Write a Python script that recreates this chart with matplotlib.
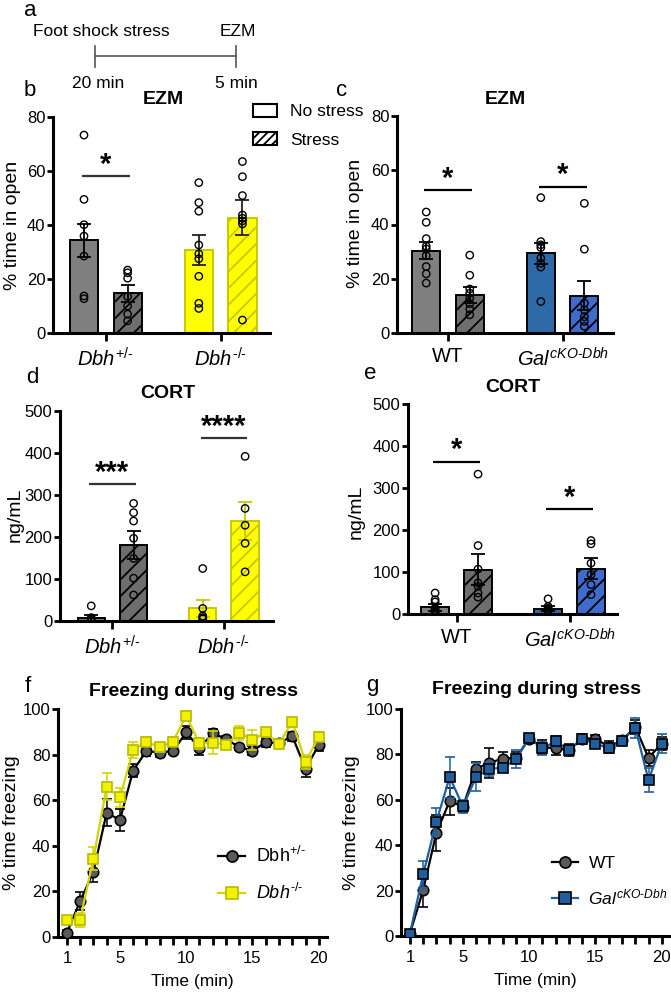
import numpy as np
import matplotlib
matplotlib.use('Agg')
import matplotlib.pyplot as plt
from matplotlib.patches import Patch
from matplotlib.lines import Line2D

W, H = 671, 994
plt.rcParams['font.family'] = ['Liberation Sans', 'DejaVu Sans']
plt.rcParams['mathtext.fontset'] = 'custom'
plt.rcParams['mathtext.rm'] = 'Liberation Sans'
plt.rcParams['mathtext.it'] = 'Liberation Sans:italic'
plt.rcParams['mathtext.bf'] = 'Liberation Sans:bold'
plt.rcParams['hatch.linewidth'] = 1.3

HY = '\u2010'  # typographic hyphen (avoids math minus)

# ---------------- data ----------------
conditions = ['No stress', 'Stress']

# panel b: EZM, Dbh mice
b_groups = [r'$\mathit{Dbh}^{+/' + HY + '}$', r'$\mathit{Dbh}^{' + HY + '/' + HY + '}$']
b_mean = [[34.3, 14.7], [30.7, 42.7]]
b_sem = [[6.2, 3.1], [5.6, 6.4]]
b_points = [[[73.3, 49.5, 40.1, 35.9, 28.5, 13.7, 12.7],
             [23.3, 22.3, 20.3, 13.5, 10.0, 7.0, 4.5]],
            [[55.7, 48.3, 45.1, 32.6, 29.3, 27.5, 21.0, 11.0, 9.1],
             [63.5, 57.9, 50.9, 43.7, 42.5, 41.5, 40.4, 4.8]]]
b_sig = [(0, 58.1, '*')]

# panel c: EZM, Gal cKO
c_groups = ['WT', r'$\mathit{Gal}^{\mathit{cKO' + HY + 'Dbh}}$']
c_mean = [[30.4, 14.1], [29.4, 13.7]]
c_sem = [[3.0, 3.0], [3.9, 5.3]]
c_points = [[[44.6, 40.8, 34.8, 32.0, 31.0, 28.5, 24.5, 21.8, 18.4],
             [28.7, 21.3, 16.2, 14.7, 12.9, 10.8, 8.8, 6.7]],
            [[49.9, 33.7, 32.5, 31.5, 27.6, 25.7, 24.3, 11.6],
             [47.8, 30.9, 11.0, 8.5, 6.0, 4.3, 2.5]]]
c_sig = [(0, 52.7, '*'), (1, 53.9, '*')]

# panel d: CORT, Dbh mice
d_mean = [[8.0, 181.0], [30.0, 238.0]]
d_sem = [[7.0, 34.0], [20.0, 46.0]]
d_points = [[[36.0, 8.0, 5.0, 3.0, 2.0, 1.0],
             [280.0, 258.0, 238.0, 197.0, 149.0, 102.0, 62.0]],
            [[125.0, 30.0, 12.0, 8.0, 5.0],
             [392.0, 268.0, 228.0, 185.0, 117.0]]]
d_sig = [(0, 326.0, '***'), (1, 435.0, '****')]

# panel e: CORT, Gal cKO
e_mean = [[16.0, 105.5], [12.0, 108.0]]
e_sem = [[8.0, 37.0], [6.0, 25.0]]
e_points = [[[50.0, 34.0, 28.6, 14.0, 10.0, 5.0, 2.0],
             [333.0, 163.0, 107.0, 74.0, 66.0, 50.0, 40.0]],
            [[36.0, 18.0, 14.0, 10.0, 8.0],
             [175.0, 167.0, 121.0, 94.0, 70.0, 46.0]]]
e_sig = [(0, 363.0, '*'), (1, 250.0, '*')]

# panels f, g: freezing during stress
minutes = list(range(1, 21))
f_het = [1.9, 15.7, 28.6, 54.5, 51.3, 73.0, 81.6, 80.9, 81.6, 89.7,
         82.8, 89.4, 86.8, 83.3, 81.7, 85.4, 85.0, 88.1, 73.8, 84.2]
f_het_sem = [1.0, 4.0, 4.6, 6.0, 5.0, 3.0, 2.0, 2.0, 1.5, 3.0,
             3.0, 2.0, 1.5, 1.5, 2.0, 2.0, 1.5, 2.0, 3.5, 2.5]
f_ko = [7.3, 7.6, 34.4, 65.9, 61.2, 82.0, 85.7, 83.2, 85.7, 97.0,
        85.0, 85.3, 84.4, 89.4, 86.5, 89.7, 84.6, 94.5, 76.8, 87.8]
f_ko_sem = [1.0, 3.0, 5.0, 6.0, 4.0, 3.5, 2.0, 2.0, 2.0, 2.0,
            2.5, 5.0, 1.5, 3.0, 4.5, 2.0, 1.5, 1.5, 3.0, 2.0]
g_wt = [1.0, 20.2, 45.5, 59.4, 57.0, 73.7, 76.3, 78.1, 78.5, 87.0,
        83.3, 82.6, 81.9, 87.0, 87.0, 83.3, 86.2, 92.1, 78.5, 84.8]
g_wt_sem = [0.5, 7.5, 8.0, 6.0, 2.5, 3.0, 6.7, 3.0, 2.5, 1.5,
            3.0, 3.0, 2.5, 2.0, 1.5, 2.5, 2.0, 3.0, 3.4, 3.0]
g_cko = [1.0, 27.1, 50.4, 70.0, 57.1, 70.0, 73.7, 74.1, 77.8, 87.2,
         82.6, 85.8, 81.9, 86.6, 84.8, 82.6, 86.0, 91.8, 68.7, 84.8]
g_cko_sem = [0.5, 6.0, 6.0, 9.0, 3.0, 6.0, 3.0, 2.0, 4.0, 1.5,
             3.0, 2.5, 2.0, 2.0, 2.0, 2.0, 2.0, 4.4, 5.4, 4.4]

# ---------------- figure ----------------
fig = plt.figure(figsize=(W / 100, H / 100), dpi=100)


def T(x, y, s, **kw):
    kw.setdefault('ha', 'center')
    kw.setdefault('va', 'center')
    return fig.text(x / W, 1 - y / H, s, **kw)


def add_ax(x0, ytop, x1, ybot):
    ax = fig.add_axes([x0 / W, 1 - ybot / H, (x1 - x0) / W, (ybot - ytop) / H])
    for s in ['top', 'right']:
        ax.spines[s].set_visible(False)
    for s in ['left', 'bottom']:
        ax.spines[s].set_linewidth(2.2)
    ax.tick_params(width=2.0, length=4, labelsize=12, pad=1.5)
    return ax


OFF = 0.19
BW = 0.245


def bar_panel(rect, groups, means, sems, points, faces, edges, errc, ylim, yticks,
              sigs, xlim, sigc='#333333'):
    ax = add_ax(*rect)
    for g in range(2):
        for c in range(2):
            x = g + (2 * c - 1) * OFF
            ax.bar(x, means[g][c], width=BW, color=faces[g][c], edgecolor=edges[g][c],
                   linewidth=1.4, hatch='//' if c == 1 else None, zorder=2)
            ax.errorbar(x, means[g][c], yerr=sems[g][c], color=errc[g][c], capsize=5,
                        elinewidth=1.3, capthick=1.3, zorder=3)
            pts = points[g][c]
            ax.scatter([x] * len(pts), pts, s=28, facecolors='none',
                       edgecolors='black', linewidths=1.0, zorder=4)
    for g, y, s in sigs:
        ax.plot([g - OFF - 0.02, g + OFF + 0.02], [y, y], color=sigc, lw=1.6,
                solid_capstyle='butt', zorder=3)
        ax.text(g, y - (ylim[1] - ylim[0]) * 0.012, s, ha='center', va='bottom',
                fontsize=21, fontweight='bold')
    ax.set_xlim(*xlim)
    ax.set_ylim(*ylim)
    ax.set_yticks(yticks)
    ax.set_xticks([0, 1])
    ax.set_xticklabels(groups, fontsize=14.5)
    ax.tick_params(axis='x', length=6, pad=4)
    return ax


gray_f = '#7f7f7f'
gray_s = '#6e6e6e'
yel = '#ffff00'
yel_e = '#c8c800'
blue_f = '#2f6aa8'
blue_s = '#3f6ccc'

# panel b
axb = bar_panel((53, 117, 270, 333), b_groups, b_mean, b_sem, b_points,
                [[gray_f, gray_s], [yel, yel]],
                [['black', 'black'], [yel_e, yel_e]],
                [['black', 'black'], ['#222222', '#222222']],
                (0, 80), [0, 20, 40, 60, 80], b_sig, (-0.46, 1.43))
leg = axb.legend(handles=[Patch(facecolor='white', edgecolor='black', linewidth=1.5),
                          Patch(facecolor='white', edgecolor='black', linewidth=1.5, hatch='////')],
                 labels=conditions, loc='upper left', bbox_to_anchor=(253 / W, 1 - 104 / H),
                 bbox_transform=fig.transFigure, frameon=False, fontsize=12.5,
                 handlelength=1.4, handleheight=0.75, handletextpad=0.75,
                 labelspacing=0.75, borderpad=0, borderaxespad=0)

# panel c
axc = bar_panel((397, 116, 613, 333), c_groups, c_mean, c_sem, c_points,
                [[gray_f, gray_s], [blue_f, blue_s]],
                [['black', 'black'], ['black', 'black']],
                [['black', 'black'], ['black', 'black']],
                (0, 80), [0, 20, 40, 60, 80], c_sig, (-0.445, 1.44), sigc='black')

# panel d
axd = bar_panel((60, 411, 273, 621), b_groups, d_mean, d_sem, d_points,
                [[gray_f, gray_s], [yel, yel]],
                [['black', 'black'], [yel_e, yel_e]],
                [['black', 'black'], [yel_e, yel_e]],
                (0, 500), [0, 100, 200, 300, 400, 500], d_sig, (-0.47, 1.44))

# panel e
axe = bar_panel((408, 404, 617, 614), c_groups, e_mean, e_sem, e_points,
                [[gray_f, gray_s], [blue_f, blue_s]],
                [['black', 'black'], ['black', 'black']],
                [['black', 'black'], ['black', 'black']],
                (0, 500), [0, 100, 200, 300, 400, 500], e_sig, (-0.43, 1.42), sigc='black')


def line_panel(rect, s1, s2, leg_xy, leg_fs):
    ax = add_ax(*rect)
    handles = []
    for (y, e, mk, fc, ec, lc, lab, z) in (s1, s2):
        ax.errorbar(minutes, y, yerr=e, color=lc, ecolor=lc, elinewidth=1.1, capsize=3.5,
                    capthick=1.1, marker=mk, markersize=7.5, markerfacecolor=fc,
                    markeredgecolor=ec, markeredgewidth=1.2, lw=1.6, zorder=z)
        handles.append(Line2D([], [], color=lc, lw=1.6, marker=mk, markersize=8,
                              markerfacecolor=fc, markeredgecolor=ec, markeredgewidth=1.2,
                              label=lab))
    ax.set_xlim(0.33, 20.62)
    ax.set_ylim(0, 100)
    ax.set_yticks([0, 20, 40, 60, 80, 100])
    ax.set_xticks(minutes)
    ax.set_xticklabels([str(m) if m in (1, 5, 10, 15, 20) else '' for m in minutes])
    ax.tick_params(axis='x', length=6, pad=4)
    ax.set_xlabel('Time (min)', fontsize=12.5, labelpad=6)
    ax.legend(handles=handles, loc='upper left', bbox_to_anchor=(leg_xy[0] / W, 1 - leg_xy[1] / H),
              bbox_transform=fig.transFigure, frameon=False, fontsize=leg_fs,
              handlelength=1.5, handletextpad=0.6, labelspacing=0.95,
              borderpad=0, borderaxespad=0)
    return ax


axf = line_panel((58, 709, 327, 937),
                 (f_het, f_het_sem, 'o', '#5a5a5a', 'black', 'black',
                  r'Dbh$^{+/' + HY + '}$', 3),
                 (f_ko, f_ko_sem, 's', '#f2f200', '#b8b800', '#d4d400',
                  r'$\mathit{Dbh}^{' + HY + '/' + HY + '}$', 4),
                 (218, 846), 13)

axg = line_panel((401, 709, 670, 936),
                 (g_wt, g_wt_sem, 'o', '#5a5a5a', 'black', 'black', 'WT', 3),
                 (g_cko, g_cko_sem, 's', '#1f5fa0', 'black', '#1f5fa0',
                  r'$\mathit{Gal}^{\mathit{cKO' + HY + 'Dbh}}$', 4),
                 (552, 856), 12.5)

# ---------------- text annotations ----------------
lab_kw = dict(fontsize=16)
T(30, 11, 'a', **lab_kw)
T(30, 91, 'b', **lab_kw)
T(342, 91, 'c', **lab_kw)
T(32, 378, 'd', **lab_kw)
T(370, 373, 'e', **lab_kw)
T(28, 687, 'f', **lab_kw)
T(372, 685, 'g', **lab_kw)

tkw = dict(fontsize=14, fontweight='bold')
T(163, 100, 'EZM', **tkw)
T(505, 99, 'EZM', **tkw)
T(168, 393, 'CORT', **tkw)
T(513, 387, 'CORT', **tkw)
T(193, 692, 'Freezing during stress', **tkw)
T(537, 690, 'Freezing during stress', **tkw)

ykw = dict(fontsize=14, rotation=90)
T(13, 225, '% time in open', **ykw)
T(355, 223, '% time in open', **ykw)
T(15, 515, 'ng/mL', **ykw)
T(356, 512, 'ng/mL', **ykw)
T(12, 823, '% time freezing', **ykw)
T(352, 823, '% time freezing', **ykw)

# panel a: timeline
T(101, 32, 'Foot shock stress', fontsize=12.5)
T(238, 32, 'EZM', fontsize=12.5)
T(98, 83, '20 min', fontsize=12.5)
T(236, 83, '5 min', fontsize=12.5)
tl = '#555555'
fig.add_artist(Line2D([95 / W, 236 / W], [1 - 56 / H, 1 - 56 / H], color=tl, lw=1.2))
fig.add_artist(Line2D([95 / W, 95 / W], [1 - 46 / H, 1 - 67 / H], color=tl, lw=1.2))
fig.add_artist(Line2D([236 / W, 236 / W], [1 - 46 / H, 1 - 67 / H], color=tl, lw=1.2))

fig.savefig('out.png', dpi=100)
